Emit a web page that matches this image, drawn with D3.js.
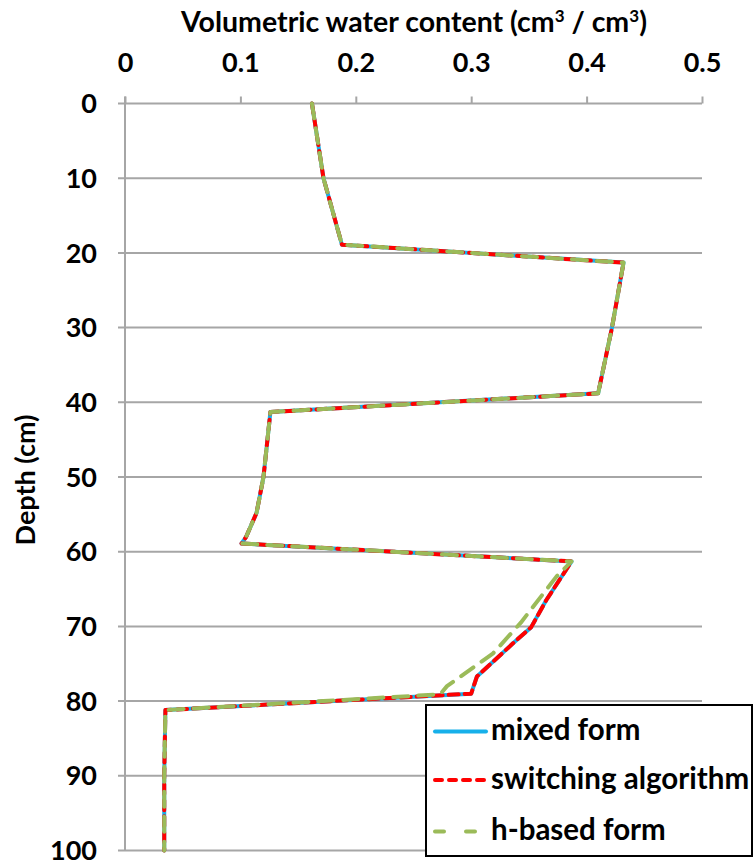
<!DOCTYPE html>
<html>
<head>
<meta charset="utf-8">
<script src="https://cdn.jsdelivr.net/npm/d3@7"></script>
<style>
  html, body { margin: 0; padding: 0; background: #fff; }
  svg { display: block; }
  text { font-family: Lato, "Open Sans", "Liberation Sans", sans-serif; font-weight: bold; fill: #000; }
</style>
</head>
<body>
<svg id="chart" width="754" height="867"></svg>
<script>
// Water content profiles (depth in cm, theta in cm3/cm3)
const mixedDepth = [0, 10, 18.9, 21.3, 30, 38.8, 41.3, 50, 54.8, 58, 58.9, 61.3, 66.5, 70.1, 72.3, 76.7, 79.0, 81.2, 90, 100];
const mixedTheta = [0.162, 0.172, 0.188, 0.432, 0.422, 0.410, 0.126, 0.120, 0.114, 0.105, 0.101, 0.387, 0.365, 0.352, 0.336, 0.305, 0.300, 0.035, 0.034, 0.034];

const switchingDepth = [0, 10, 18.9, 21.3, 30, 38.8, 41.3, 50, 54.8, 58, 58.9, 61.3, 66.5, 70.1, 72.3, 76.7, 79.0, 81.2, 90, 100];
const switchingTheta = [0.162, 0.172, 0.188, 0.432, 0.422, 0.410, 0.126, 0.120, 0.114, 0.105, 0.101, 0.387, 0.365, 0.352, 0.336, 0.305, 0.300, 0.035, 0.034, 0.034];

const hBasedDepth = [0, 10, 18.9, 21.3, 30, 38.8, 41.3, 50, 54.8, 58, 58.9, 61.3, 63.3, 69.5, 73.6, 78.0, 79.1, 81.2, 90, 100];
const hBasedTheta = [0.162, 0.172, 0.188, 0.432, 0.422, 0.410, 0.126, 0.120, 0.114, 0.105, 0.101, 0.387, 0.374, 0.343, 0.319, 0.279, 0.273, 0.035, 0.034, 0.034];

const xTicks = [0, 0.1, 0.2, 0.3, 0.4, 0.5];
const yTicks = [0, 10, 20, 30, 40, 50, 60, 70, 80, 90, 100];

const seriesNames = ["mixed form", "switching algorithm", "h-based form"];

const svg = d3.select("#chart");
const plotLeft = 125, plotRight = 702, plotTop = 103.5, plotBottom = 850.5;

const x = d3.scaleLinear().domain([0, 0.5]).range([plotLeft, plotRight]);
const y = d3.scaleLinear().domain([0, 100]).range([plotTop, plotBottom]);

const gridColor = "#a6a6a6";
const fontStack = "Lato, 'Open Sans', sans-serif";

// horizontal gridlines
svg.append("g").selectAll("line").data(yTicks).join("line")
  .attr("x1", plotLeft - 7).attr("x2", plotRight)
  .attr("y1", d => y(d)).attr("y2", d => y(d))
  .attr("stroke", gridColor).attr("stroke-width", 2);

// vertical axis line
svg.append("line")
  .attr("x1", plotLeft).attr("x2", plotLeft)
  .attr("y1", plotTop - 7).attr("y2", plotBottom)
  .attr("stroke", gridColor).attr("stroke-width", 2);

// top axis
const xAxis = d3.axisTop(x).tickValues(xTicks).tickSize(7).tickSizeOuter(0)
  .tickFormat(d => d3.format("")(d));
const gx = svg.append("g").attr("transform", `translate(0,${plotTop})`).call(xAxis);
gx.select(".domain").remove();
gx.selectAll(".tick line").attr("stroke", gridColor).attr("stroke-width", 2);
gx.selectAll(".tick text")
  .attr("y", -31.5).attr("dy", 0).attr("font-size", 27)
  .style("font-family", fontStack).style("font-weight", "bold").attr("fill", "#000");

// left axis labels
const yAxis = d3.axisLeft(y).tickValues(yTicks).tickSize(0).tickFormat(d3.format("d"));
const gy = svg.append("g").attr("transform", `translate(${plotLeft},0)`).call(yAxis);
gy.select(".domain").remove();
gy.selectAll(".tick text")
  .attr("x", -28).attr("dy", "0.34em").attr("font-size", 27)
  .style("font-family", fontStack).style("font-weight", "bold").attr("fill", "#000");

// titles
const title = svg.append("text").attr("x", 414).attr("y", 32)
  .attr("text-anchor", "middle").attr("font-size", 28.5);
title.append("tspan").text("Volumetric  water content (cm");
title.append("tspan").attr("font-size", 17).attr("dy", -10).text("3");
title.append("tspan").attr("dy", 10).text(" / cm");
title.append("tspan").attr("font-size", 17).attr("dy", -10).text("3");
title.append("tspan").attr("dy", 10).text(")");

svg.append("text")
  .attr("transform", "translate(35,480) rotate(-90)")
  .attr("text-anchor", "middle").attr("font-size", 27)
  .text("Depth (cm)");

// profile lines
const makeLine = (depths) => d3.line()
  .x((d) => x(d))
  .y((d, i) => y(depths[i]))
  .curve(d3.curveLinear);

const styles = [
  { color: "#17b0ea", dash: null },
  { color: "#ff0000", dash: "10,6" },
  { color: "#9bbb59", dash: "15,10" }
];

const series = [
  { theta: mixedTheta, depth: mixedDepth },
  { theta: switchingTheta, depth: switchingDepth },
  { theta: hBasedTheta, depth: hBasedDepth }
];

series.forEach((s, i) => {
  svg.append("path")
    .attr("d", makeLine(s.depth)(s.theta))
    .attr("fill", "none")
    .attr("stroke", styles[i].color)
    .attr("stroke-width", 4)
    .attr("stroke-linejoin", "round")
    .attr("stroke-linecap", "round")
    .attr("stroke-dasharray", styles[i].dash);
});

// legend
const lg = svg.append("g");
lg.append("rect")
  .attr("x", 426).attr("y", 705).attr("width", 326).attr("height", 151)
  .attr("fill", "#fff").attr("stroke", "#000").attr("stroke-width", 2);

seriesNames.forEach((name, i) => {
  const cy = [731.5, 780, 831.5][i];
  lg.append("line")
    .attr("x1", 435).attr("x2", 486)
    .attr("y1", cy).attr("y2", cy)
    .attr("stroke", styles[i].color).attr("stroke-width", 4)
    .attr("stroke-linecap", "round")
    .attr("stroke-dasharray", i === 0 ? null : (i === 1 ? "7,7" : "9,22"));
  lg.append("text")
    .attr("x", 491).attr("y", cy).attr("dy", "0.3em")
    .attr("font-size", 29.5)
    .text(name);
});
</script>
</body>
</html>
